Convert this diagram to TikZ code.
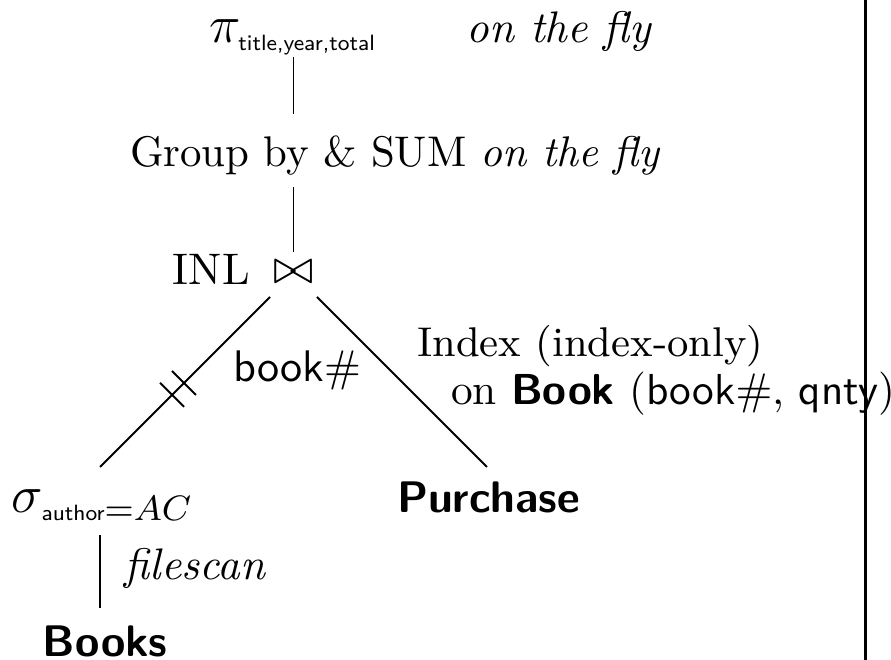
\documentclass[tikz,border=0pt]{standalone}
\usetikzlibrary{calc}
\begin{document}
\begin{tikzpicture}[x=0.2262pt,y=-0.2262pt,
  every node/.style={inner sep=0pt,outer sep=0pt},
  txt/.style={anchor=base west},
  big/.style={font=\fontsize{11.7}{14}\selectfont},
  edge/.style={line width=0.45pt},
  rule/.style={line width=0.7pt}]
\useasboundingbox (0,0) rectangle (891,660);

% operator nodes of the plan
\node[txt,big] (proj) at (209,43) {$\pi_{\mbox{\tiny\sffamily title,year,total}}$};
\node[txt] (fly1) at (467,43) {\textit{on the fly}};
\node[txt] (grp) at (130,167) {\fontsize{9.7}{12}\selectfont Group by \& SUM \textit{on the fly}};
\node[txt] (inl) at (173,285) {INL};
\node[anchor=base,font=\fontsize{11.3}{13}\selectfont] (join) at (293.5,284) {$\bowtie$};
\node[txt] (key) at (233,382) {\textsf{book}$\#$};
\node[txt] (idx) at (417,357) {\fontsize{9.4}{12}\selectfont Index (index-only)};
\node[txt] (idx2) at (451,405) {\fontsize{9.8}{12}\selectfont on \textsf{\textbf{Book}} (\textsf{book}$\#$, \textsf{qnty})};
\node[txt] (pur) at (397,513) {\textsf{\textbf{Purchase}}};
\node[txt,big] (sel) at (12,513) {$\sigma_{\mbox{\tiny\sffamily author}=AC}$};
\node[txt] (scan) at (125,580) {\textit{filescan}};
\node[txt] (books) at (43,657) {\textsf{\textbf{Books}}};

% edge end points: the two join inputs sit symmetrically below the join
\coordinate (jl) at ($(join.base)+(-23.5,13)$);
\coordinate (jr) at ($(join.base)+(23.5,13)$);
\coordinate (sl) at ($(join.base)+(-193.5,183)$);
\coordinate (pr) at ($(join.base)+(193.5,183)$);

% tree edges
\draw[edge] ($(proj.south -| join)+(0,2)$) -- ($(grp.north -| join)+(0,-22)$);
\draw[edge] ($(grp.south -| join)+(0,11)$) -- ($(join.north)+(0,-9)$);
\draw[edge] (jl) -- (sl);
\draw[edge] (jr) -- (pr);
\draw[edge] ($(sel.south -| sl)+(0,14)$) -- ($(books.north -| sl)+(0,-18)$);

% double tick on the outer edge
\draw[edge] ($(jl)!0.506!(sl)+(-12,-12)$) -- ($(jl)!0.506!(sl)+(12,12)$);
\draw[edge] ($(jl)!0.576!(sl)+(-12,-12)$) -- ($(jl)!0.576!(sl)+(12,12)$);

% column divider
\draw[rule] (865.5,0) -- (865.5,660);
\end{tikzpicture}
\end{document}
